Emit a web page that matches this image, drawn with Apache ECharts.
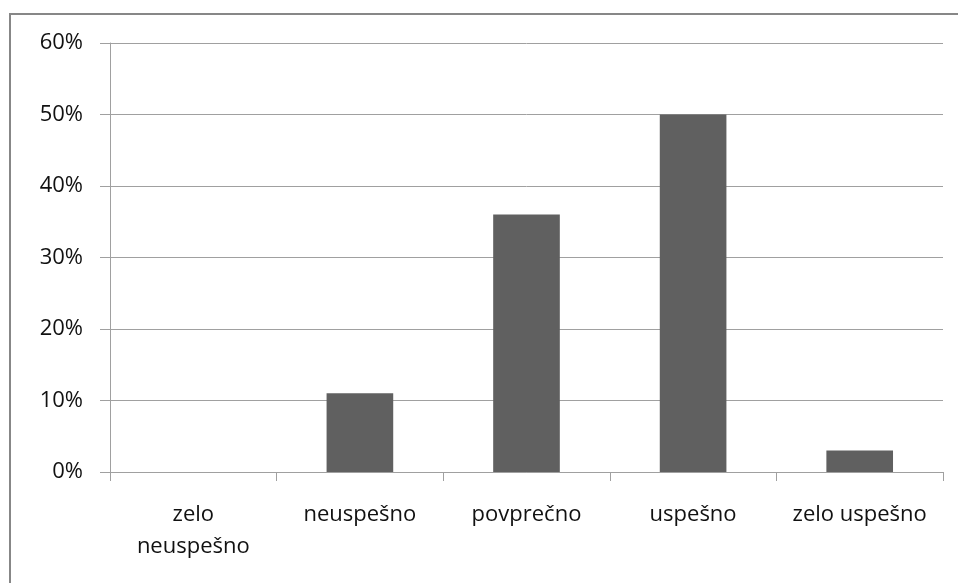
<!DOCTYPE html>
<html>
<head>
<meta charset="utf-8">
<script src="https://cdn.jsdelivr.net/npm/echarts@6/dist/echarts.min.js"></script>
<style>
  html, body { margin: 0; padding: 0; background: #ffffff; }
  #chart { width: 958px; height: 583px; }
</style>
</head>
<body>
<div id="chart"></div>
<script>
// Survey answers and their share of respondents (%)
const categories = ['zelo\nneuspešno', 'neuspešno', 'povprečno', 'uspešno', 'zelo uspešno'];
const shares = [0, 11, 36, 50, 3];

const chart = echarts.init(document.getElementById('chart'), null, { renderer: 'canvas' });

const gridColor = '#a0a0a0';
const textStyle = { fontFamily: 'Open Sans', fontSize: 22, color: '#111111' };

chart.setOption({
  animation: false,
  backgroundColor: '#ffffff',
  graphic: [{
    type: 'rect',
    shape: { x: 10, y: 14, width: 1000, height: 700 },
    style: { fill: 'none', stroke: '#878787', lineWidth: 2 },
    silent: true
  }],
  grid: { left: 110, right: 15, top: 43, bottom: 111 },
  xAxis: {
    type: 'category',
    data: categories,
    axisLine: { show: true, lineStyle: { color: gridColor, width: 1 } },
    axisTick: { show: true, length: 9, lineStyle: { color: gridColor } },
    axisLabel: Object.assign({ margin: 27, lineHeight: 32, interval: 0 }, textStyle)
  },
  yAxis: {
    type: 'value',
    min: 0,
    max: 60,
    interval: 10,
    axisLine: { show: true, lineStyle: { color: gridColor, width: 1 } },
    axisTick: { show: true, length: 10, lineStyle: { color: gridColor } },
    splitLine: { show: true, lineStyle: { color: gridColor, width: 1 } },
    axisLabel: Object.assign({ margin: 27, formatter: '{value}%' }, textStyle)
  },
  series: [{
    type: 'bar',
    data: shares,
    barWidth: '40%',
    itemStyle: { color: '#606060' }
  }]
});
</script>
</body>
</html>
